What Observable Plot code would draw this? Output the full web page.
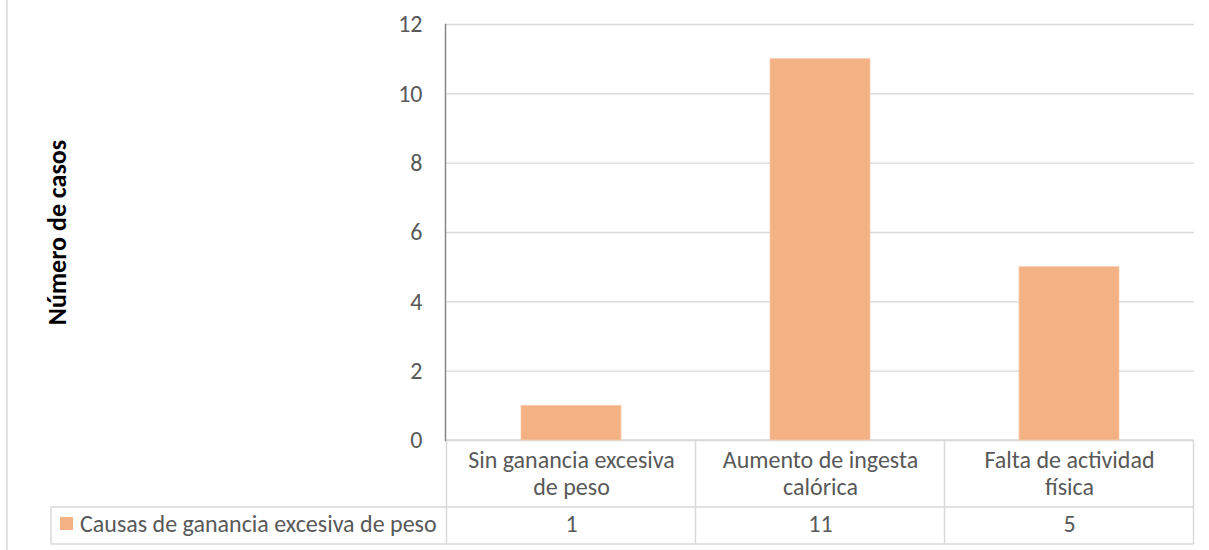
<!DOCTYPE html>
<html>
<head>
<meta charset="utf-8">
<script src="https://cdn.jsdelivr.net/npm/d3@7"></script>
<script src="https://cdn.jsdelivr.net/npm/@observablehq/plot@0.6"></script>
<style>
  html, body { margin: 0; padding: 0; background: #fff; }
  #chart svg { display: block; }
</style>
</head>
<body>
<div id="chart"></div>
<script>
// ---- data ----
const categories = ["Sin ganancia excesiva\nde peso", "Aumento de ingesta\ncalórica", "Falta de actividad\nfísica"];
const values = [1, 11, 5];
const seriesName = "Causas de ganancia excesiva de peso";
const yTicks = [0, 2, 4, 6, 8, 10, 12];
const yLabel = "Número de casos";

const data = categories.map((c, i) => ({cat: c, value: values[i]}));

const FONT = "Carlito, Calibri, Lato, sans-serif";
const TXT = "#595959";
const BAR = "#F4B183";
const LINE = "#d9d9d9";

const plot = Plot.plot({
  width: 1209,
  height: 550,
  marginLeft: 445,
  marginRight: 15,
  marginTop: 24,
  marginBottom: 110,
  style: {fontFamily: FONT, background: "#fff", overflow: "visible"},
  x: {type: "band", domain: categories, paddingInner: 0.6, paddingOuter: 0.3, axis: null},
  y: {domain: [0, 12], ticks: yTicks, axis: null},
  marks: [
    Plot.gridY(yTicks, {stroke: LINE, strokeOpacity: 1, strokeWidth: 1.3}),
    Plot.barY(data, {x: "cat", y: "value", fill: BAR, stroke: "#F8CBAD", strokeWidth: 0.8}),
    Plot.axisY(yTicks, {tickSize: 0, tickPadding: 23, fontSize: 24, fill: TXT, label: null}),
    Plot.frame({anchor: "left", stroke: "#868686", strokeWidth: 1.5}),
    Plot.text([yLabel], {frameAnchor: "left", dx: -388, rotate: -90, textAnchor: "middle", lineAnchor: "middle",
      fontSize: 26, fontWeight: "bold", fill: "#000"}),
    // category labels in data table
    Plot.text(data, {x: "cat", text: "cat", frameAnchor: "bottom", lineAnchor: "middle", dy: 32,
      fontSize: 24, fill: TXT, lineHeight: 1.125}),
    // value row
    Plot.text(data, {x: "cat", text: d => String(d.value), frameAnchor: "bottom", lineAnchor: "middle", dy: 84,
      fontSize: 24, fill: TXT})
  ]
});

document.getElementById("chart").appendChild(plot);

// ---- data table grid (layout drawn from scales) ----
const svg = d3.select(plot);
const xs = plot.scale("x");
const ys = plot.scale("y");
const step = xs.step, bw = xs.bandwidth;
const edges = categories.map(c => xs.apply(c) - (step - bw) / 2);
edges.push(edges[edges.length - 1] + step);
const yTop = ys.apply(0);
const yMid = yTop + 67;
const yBot = yTop + 104;
const legendLeft = 51;

const g = svg.insert("g", ":first-child").attr("stroke", LINE).attr("stroke-width", 1.5).attr("fill", "none");
// outer left border
g.append("line").attr("x1", 7).attr("x2", 7).attr("y1", 0).attr("y2", 550);
// horizontal lines
g.append("line").attr("x1", edges[0]).attr("x2", edges[edges.length - 1]).attr("y1", yTop).attr("y2", yTop);
g.append("line").attr("x1", legendLeft).attr("x2", edges[edges.length - 1]).attr("y1", yMid).attr("y2", yMid);
g.append("line").attr("x1", legendLeft).attr("x2", edges[edges.length - 1]).attr("y1", yBot).attr("y2", yBot);
// vertical lines
edges.forEach(x => g.append("line").attr("x1", x).attr("x2", x).attr("y1", yTop).attr("y2", yBot));
g.append("line").attr("x1", legendLeft).attr("x2", legendLeft).attr("y1", yMid).attr("y2", yBot);

// legend key in table
const lg = svg.append("g");
lg.append("rect").attr("x", 60).attr("y", yMid + 10).attr("width", 13).attr("height", 13).attr("fill", BAR);
lg.append("text").attr("x", 80).attr("y", yMid + 25).attr("fill", TXT).attr("text-anchor", "start")
  .attr("font-family", FONT).attr("font-size", 24).text(seriesName);
</script>
</body>
</html>
